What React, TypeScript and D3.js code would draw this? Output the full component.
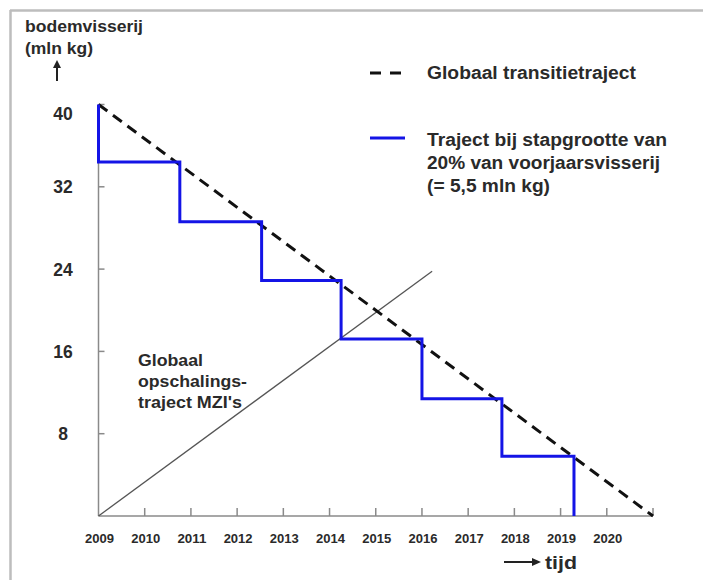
import * as d3 from "d3";

const years = [2009, 2010, 2011, 2012, 2013, 2014, 2015, 2016, 2017, 2018, 2019, 2020, 2021];
const yearLabels = ["2009", "2010", "2011", "2012", "2013", "2014", "2015", "2016", "2017", "2018", "2019", "2020"];
const yTicks = [8, 16, 24, 32, 40];

// globaal transitietraject (dashed)
const transitie = [
  { x: 2009, y: 40 },
  { x: 2021, y: 0 },
];

// traject bij stapgrootte (blue steps)
const stapJaren = [2009, 2009, 2010.76, 2012.53, 2014.25, 2016.0, 2017.73, 2019.29];
const stapNiveaus = [40, 34.4, 28.6, 22.9, 17.2, 11.4, 5.8, 0];

// opschalingstraject MZI's (thin gray)
const mzi = [
  { x: 2009, y: 0 },
  { x: 2016.22, y: 23.8 },
];

const legendLines = ["Traject bij stapgrootte van", "20% van voorjaarsvisserij", "(= 5,5 mln kg)"];
const legendWidths = [240, 233, 123];
const noteLines = ["Globaal", "opschalings-", "traject MZI's"];
const noteWidths = [65, 109, 104];

const W = 703;
const H = 580;
const font = "'Liberation Sans', Arial, sans-serif";
const textColor = "#2a2a2a";

export default function App() {
  const x = d3.scaleLinear().domain([2009, 2021]).range([98.5, 653]);
  const y = d3.scaleLinear().domain([0, 40]).range([516, 104.5]);

  const line = d3
    .line<{ x: number; y: number }>()
    .x((d) => x(d.x))
    .y((d) => y(d.y));

  const stepLine = d3
    .line<number>()
    .x((_, i) => x(stapJaren[i]))
    .y((d) => y(d))
    .curve(d3.curveStepAfter);

  const legendDash = { x1: 370, x2: 405 };

  return (
    <svg
      width={W}
      height={H}
      style={{ position: "absolute", left: 0, top: 0, background: "#fff" }}
      fontFamily={font}
    >
      {/* frame */}
      <line x1={10} y1={10.5} x2={W} y2={10.5} stroke="#bdbdbd" strokeWidth={2.5} />
      <line x1={10.5} y1={10} x2={10.5} y2={H} stroke="#bdbdbd" strokeWidth={2.5} />

      {/* axis titles */}
      <text x={25} y={32} fontSize={16} fontWeight="bold" fill={textColor} textLength={118} lengthAdjust="spacingAndGlyphs">
        bodemvisserij
      </text>
      <text x={25} y={54} fontSize={16} fontWeight="bold" fill={textColor} textLength={68} lengthAdjust="spacingAndGlyphs">
        (mln kg)
      </text>
      <line x1={57} y1={81} x2={57} y2={66} stroke="#222" strokeWidth={2} />
      <path d="M57,60 L53,68 L61,68 Z" fill="#222" />

      {/* y axis */}
      <line x1={x(2009)} y1={y(0)} x2={x(2009)} y2={y(40)} stroke="#8a8a8a" strokeWidth={1.5} />
      {yTicks.map((t) => (
        <g key={t}>
          <line x1={x(2009)} x2={x(2009) + 6} y1={y(t)} y2={y(t)} stroke="#8a8a8a" strokeWidth={1.5} />
          <text
            x={63}
            y={y(t)}
            dy={t === 40 ? 15 : 6.5}
            textAnchor="middle"
            fontSize={17.5}
            fontWeight="bold"
            fill={textColor}
          >
            {t}
          </text>
        </g>
      ))}

      {/* x axis */}
      <line x1={x(2009)} y1={y(0)} x2={x(2021)} y2={y(0)} stroke="#8a8a8a" strokeWidth={1.5} />
      {years.slice(1).map((yr) => (
        <line key={yr} x1={x(yr)} x2={x(yr)} y1={y(0)} y2={y(0) - 8} stroke="#8a8a8a" strokeWidth={1.5} />
      ))}
      {yearLabels.map((lbl, i) => (
        <text
          key={lbl}
          x={x(years[i]) + 1}
          y={543}
          textAnchor="middle"
          fontSize={13}
          fontWeight="bold"
          fill={textColor}
          textLength={29}
          lengthAdjust="spacingAndGlyphs"
        >
          {lbl}
        </text>
      ))}
      <line x1={504} y1={562} x2={533} y2={562} stroke="#222" strokeWidth={2} />
      <path d="M541,562 L532,558 L532,566 Z" fill="#222" />
      <text x={545} y={569} fontSize={18} fontWeight="bold" fill={textColor} textLength={32} lengthAdjust="spacingAndGlyphs">
        tijd
      </text>

      {/* MZI line */}
      <path d={line(mzi) ?? ""} fill="none" stroke="#555" strokeWidth={1.3} />

      {/* dashed transition line */}
      <path
        d={line(transitie) ?? ""}
        fill="none"
        stroke="#111"
        strokeWidth={3}
        strokeDasharray="11 7"
      />

      {/* stepped trajectory */}
      <path
        d={stepLine(stapNiveaus) ?? ""}
        fill="none"
        stroke="#1414e6"
        strokeWidth={3}
      />

      {/* annotation */}
      <text fontSize={16} fontWeight="bold" fill={textColor}>
        {noteLines.map((s, i) => (
          <tspan key={s} x={138} y={366 + i * 21} textLength={noteWidths[i]} lengthAdjust="spacingAndGlyphs">
            {s}
          </tspan>
        ))}
      </text>

      {/* legend */}
      <line
        x1={legendDash.x1}
        x2={legendDash.x2}
        y1={73}
        y2={73}
        stroke="#111"
        strokeWidth={3}
        strokeDasharray="11 9"
      />
      <text x={427} y={79} fontSize={17.5} fontWeight="bold" fill={textColor} textLength={209} lengthAdjust="spacingAndGlyphs">
        Globaal transitietraject
      </text>
      <line x1={legendDash.x1} x2={legendDash.x2} y1={138} y2={138} stroke="#1414e6" strokeWidth={3} />
      <text fontSize={17.5} fontWeight="bold" fill={textColor}>
        {legendLines.map((s, i) => (
          <tspan key={s} x={427} y={146 + i * 23} textLength={legendWidths[i]} lengthAdjust="spacingAndGlyphs">
            {s}
          </tspan>
        ))}
      </text>
    </svg>
  );
}
